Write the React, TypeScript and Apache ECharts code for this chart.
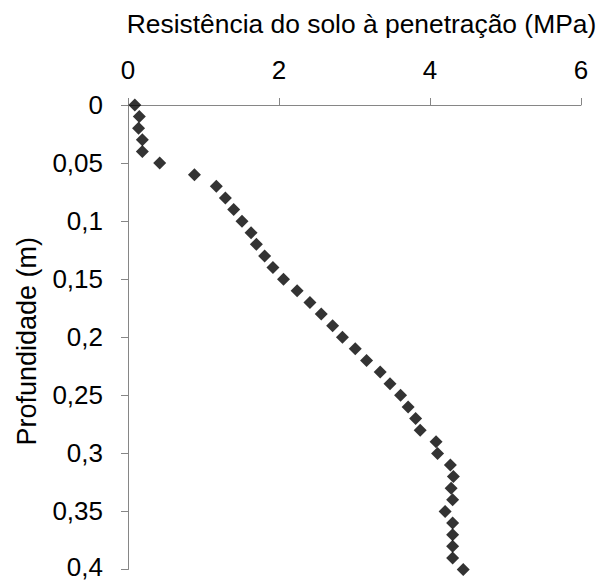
import React, { useEffect, useRef } from "react";
import * as echarts from "echarts";

const depths = [
  0, 0.01, 0.02, 0.03, 0.04, 0.05, 0.06, 0.07, 0.08, 0.09, 0.1, 0.11, 0.12, 0.13,
  0.14, 0.15, 0.16, 0.17, 0.18, 0.19, 0.2, 0.21, 0.22, 0.23, 0.24, 0.25, 0.26,
  0.27, 0.28, 0.29, 0.3, 0.31, 0.32, 0.33, 0.34, 0.35, 0.36, 0.37, 0.38, 0.39, 0.4,
];
const resistance = [
  0.09, 0.15, 0.14, 0.19, 0.19, 0.42, 0.88, 1.17, 1.29, 1.4, 1.51, 1.63, 1.7, 1.81,
  1.92, 2.06, 2.24, 2.41, 2.56, 2.71, 2.84, 3.01, 3.16, 3.34, 3.47, 3.61, 3.71,
  3.81, 3.87, 4.08, 4.1, 4.27, 4.31, 4.28, 4.3, 4.2, 4.3, 4.3, 4.3, 4.3, 4.44,
];
const xTitle = "Resistência do solo à penetração (MPa)";
const yTitle = "Profundidade (m)";

const FONT = "'Liberation Sans', Arial, sans-serif";
const AXIS_COLOR = "#868686";

export default function App() {
  const ref = useRef<HTMLDivElement>(null);
  useEffect(() => {
    if (!ref.current) return;
    const chart = echarts.init(ref.current, undefined, { renderer: "svg" });
    const points = depths.map((d, i) => [resistance[i], d]);
    chart.setOption({
      animation: false,
      backgroundColor: "#ffffff",
      textStyle: { fontFamily: FONT },
      grid: { left: 128, right: 21, top: 105, bottom: 13, containLabel: false },
      xAxis: {
        type: "value",
        position: "top",
        min: 0,
        max: 6,
        interval: 2,
        name: xTitle,
        nameLocation: "middle",
        nameGap: 68,
        nameTextStyle: { fontSize: 26.4, color: "#000", fontFamily: FONT, padding: [0, 0, 0, 14] },
        axisLine: { show: true, lineStyle: { color: AXIS_COLOR, width: 1 } },
        axisTick: { show: true, length: 7, inside: false, lineStyle: { color: AXIS_COLOR } },
        axisLabel: { fontSize: 26, color: "#000", margin: 22, fontFamily: FONT },
        splitLine: { show: false },
      },
      yAxis: {
        type: "value",
        inverse: true,
        min: 0,
        max: 0.4,
        interval: 0.05,
        name: yTitle,
        nameLocation: "middle",
        nameGap: 88,
        nameRotate: 90,
        nameTextStyle: { fontSize: 27, color: "#000", fontFamily: FONT, padding: [0, 8, 0, 0] },
        axisLine: { show: true, lineStyle: { color: AXIS_COLOR, width: 1 } },
        axisTick: { show: true, length: 7, inside: false, lineStyle: { color: AXIS_COLOR } },
        axisLabel: {
          fontSize: 26,
          color: "#000",
          margin: 25,
          fontFamily: FONT,
          formatter: (v: number) => {
            const s = String(+v.toFixed(2)).replace(".", ",");
            return v >= 0.4 ? "{last|" + s + "}" : s;
          },
          rich: {
            last: {
              fontSize: 26,
              color: "#000",
              fontFamily: FONT,
              lineHeight: 26,
              padding: [0, 0, 5, 0],
            },
          },
        },
        splitLine: { show: false },
      },
      series: [
        {
          type: "scatter",
          data: points,
          symbol: "diamond",
          symbolSize: 13,
          itemStyle: { color: "#000" },
        },
      ],
    });
    return () => chart.dispose();
  }, []);
  return (
    <div
      ref={ref}
      style={{ position: "fixed", left: 0, top: 0, width: 602, height: 585, background: "#fff" }}
    />
  );
}
